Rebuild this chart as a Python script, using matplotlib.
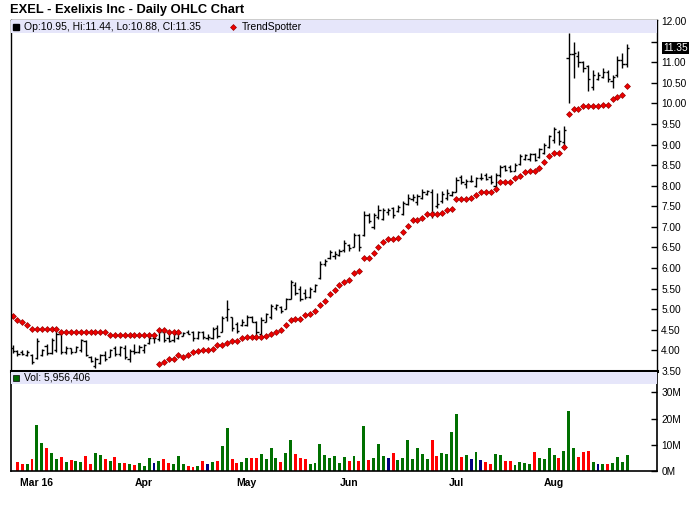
import numpy as np
import matplotlib.pyplot as plt
from matplotlib.patches import Rectangle
from matplotlib.transforms import blended_transform_factory

#%% Data #####################################################################
# one row per trading day, Feb 23 .. Aug 22 2016
opens = [4.05, 3.98, 3.96, 3.90, 3.90, 3.82, 3.90, 4.10, 3.93, 4.00,
         4.40, 3.95, 4.05, 3.96, 4.00, 4.22, 3.85, 3.62, 3.70, 3.90,
         3.85, 4.05, 3.92, 4.06, 3.80, 3.98, 3.96, 4.00, 4.18, 4.30,
         4.28, 4.45, 4.30, 4.25, 4.30, 4.36, 4.45, 4.45, 4.30, 4.44,
         4.30, 4.30, 4.55, 4.45, 4.80, 4.80, 4.65, 4.62, 4.62, 4.80,
         4.70, 4.40, 4.70, 4.80, 5.02, 5.05, 5.00, 5.26, 5.60, 5.50,
         5.40, 5.30, 5.45, 5.75, 6.10, 6.25, 6.30, 6.32, 6.45, 6.56,
         6.52, 6.80, 6.80, 7.30, 7.00, 7.25, 7.20, 7.35, 7.45, 7.38,
         7.32, 7.55, 7.68, 7.60, 7.70, 7.80, 7.85, 7.50, 7.62, 7.70,
         7.78, 7.85, 8.20, 8.05, 8.12, 8.00, 8.18, 8.25, 8.20, 8.00,
         8.25, 8.48, 8.45, 8.36, 8.52, 8.65, 8.65, 8.78, 8.70, 8.80,
         8.95, 9.10, 9.30, 9.05, 11.10, 11.20, 11.15, 11.00, 10.90, 10.40,
         10.60, 10.65, 10.75, 10.55, 10.70, 11.05, 10.95]
highs = [4.12, 4.01, 4.02, 4.01, 3.92, 4.29, 4.03, 4.16, 4.30, 4.46,
         4.44, 4.10, 4.07, 4.11, 4.28, 4.26, 3.87, 3.83, 3.91, 3.99,
         4.03, 4.11, 4.11, 4.12, 4.03, 4.16, 4.12, 4.16, 4.34, 4.37,
         4.52, 4.52, 4.44, 4.45, 4.48, 4.45, 4.50, 4.48, 4.48, 4.46,
         4.40, 4.56, 4.62, 4.84, 5.23, 4.80, 4.70, 4.76, 4.86, 4.84,
         4.72, 4.80, 4.92, 5.12, 5.12, 5.08, 5.28, 5.71, 5.65, 5.57,
         5.49, 5.55, 5.62, 6.17, 6.23, 6.43, 6.41, 6.46, 6.67, 6.58,
         6.84, 6.83, 7.38, 7.34, 7.33, 7.52, 7.46, 7.45, 7.48, 7.52,
         7.63, 7.79, 7.79, 7.79, 7.91, 7.89, 7.91, 7.83, 7.87, 7.92,
         7.87, 8.22, 8.25, 8.17, 8.25, 8.21, 8.30, 8.31, 8.25, 8.30,
         8.51, 8.51, 8.51, 8.55, 8.78, 8.78, 8.80, 8.80, 8.92, 9.04,
         9.24, 9.42, 9.36, 9.44, 11.70, 11.50, 11.26, 11.02, 10.93, 10.81,
         10.77, 10.85, 10.81, 10.69, 11.15, 11.22, 11.44]
lows = [3.93, 3.87, 3.90, 3.87, 3.67, 3.80, 3.87, 3.89, 3.91, 3.95,
        3.91, 3.91, 3.91, 3.95, 3.95, 3.87, 3.71, 3.57, 3.67, 3.75,
        3.83, 3.87, 3.87, 3.79, 3.71, 3.91, 3.94, 3.94, 4.16, 4.18,
        4.24, 4.20, 4.20, 4.21, 4.28, 4.34, 4.40, 4.24, 4.28, 4.28,
        4.26, 4.28, 4.29, 4.44, 4.72, 4.48, 4.42, 4.60, 4.60, 4.68,
        4.32, 4.32, 4.68, 4.76, 4.99, 4.90, 5.00, 5.25, 5.34, 5.20,
        5.25, 5.28, 5.41, 5.74, 6.05, 6.21, 6.21, 6.29, 6.40, 6.41,
        6.50, 6.42, 6.79, 7.10, 6.96, 7.18, 7.17, 7.28, 7.22, 7.36,
        7.30, 7.54, 7.63, 7.52, 7.67, 7.77, 7.22, 7.46, 7.59, 7.65,
        7.75, 7.84, 8.05, 7.95, 8.09, 7.97, 8.15, 8.15, 8.03, 7.97,
        8.21, 8.35, 8.33, 8.35, 8.51, 8.63, 8.61, 8.59, 8.68, 8.76,
        8.92, 9.04, 9.00, 8.94, 10.02, 10.61, 10.89, 10.77, 10.29, 10.33,
        10.57, 10.61, 10.53, 10.37, 10.65, 10.85, 10.88]
closes = [3.98, 3.92, 3.91, 3.97, 3.72, 4.22, 4.00, 3.93, 4.25, 4.40,
          3.96, 4.05, 3.95, 4.08, 4.25, 3.90, 3.74, 3.78, 3.88, 3.80,
          4.00, 3.92, 4.08, 3.85, 3.98, 3.95, 4.08, 4.12, 4.30, 4.30,
          4.45, 4.25, 4.24, 4.40, 4.42, 4.43, 4.41, 4.30, 4.44, 4.32,
          4.32, 4.52, 4.35, 4.78, 5.00, 4.55, 4.48, 4.70, 4.80, 4.70,
          4.45, 4.75, 4.88, 5.08, 5.10, 4.95, 5.25, 5.65, 5.40, 5.25,
          5.30, 5.48, 5.58, 6.10, 6.18, 6.38, 6.35, 6.42, 6.62, 6.48,
          6.80, 6.50, 7.30, 7.15, 7.28, 7.40, 7.42, 7.42, 7.30, 7.48,
          7.58, 7.70, 7.72, 7.75, 7.85, 7.86, 7.35, 7.55, 7.80, 7.82,
          7.84, 8.15, 8.10, 8.12, 8.12, 8.18, 8.18, 8.17, 8.08, 8.25,
          8.45, 8.38, 8.36, 8.50, 8.72, 8.75, 8.78, 8.62, 8.88, 8.98,
          9.20, 9.38, 9.08, 9.35, 11.20, 11.22, 11.00, 10.85, 10.60, 10.70,
          10.70, 10.75, 10.60, 10.65, 11.05, 10.95, 11.35]

# TrendSpotter: a falling run above price (days 0-34), then a rising run below (days 30-126)
trend_upper = [4.84, 4.73, 4.70, 4.62, 4.51, 4.51, 4.51, 4.51, 4.51, 4.51,
               4.45, 4.45, 4.45, 4.45, 4.45, 4.45, 4.45, 4.44, 4.44, 4.44,
               4.38, 4.38, 4.37, 4.37, 4.37, 4.37, 4.37, 4.37, 4.37, 4.37,
               4.49, 4.49, 4.45, 4.45, 4.45]
trend_lower = [3.67, 3.73, 3.79, 3.79, 3.89, 3.83, 3.89, 3.97, 3.99, 4.02,
               4.02, 4.03, 4.12, 4.13, 4.18, 4.23, 4.23, 4.30, 4.32, 4.32,
               4.32, 4.32, 4.36, 4.40, 4.44, 4.49, 4.62, 4.74, 4.76, 4.76,
               4.86, 4.88, 4.95, 5.10, 5.20, 5.36, 5.46, 5.58, 5.66, 5.71,
               5.89, 5.92, 6.25, 6.25, 6.36, 6.52, 6.64, 6.70, 6.70, 6.74,
               6.88, 7.02, 7.16, 7.16, 7.22, 7.32, 7.32, 7.32, 7.34, 7.40,
               7.44, 7.68, 7.68, 7.68, 7.71, 7.78, 7.84, 7.84, 7.84, 7.91,
               8.10, 8.10, 8.10, 8.18, 8.24, 8.34, 8.36, 8.36, 8.43, 8.58,
               8.73, 8.80, 8.80, 8.93, 9.74, 9.86, 9.86, 9.93, 9.93, 9.93,
               9.93, 9.97, 9.97, 10.10, 10.15, 10.20, 10.43]
trend_lower_start = 30

# volume in millions, first day has no bar
volume = [np.nan, 3.4, 2.7, 2.7, 4.6, 17.5, 10.6, 8.7, 6.8, 4.6,
          5.3, 3.4, 4.2, 3.8, 3.4, 5.7, 2.7, 6.8, 6.1, 4.6,
          3.8, 5.3, 3.0, 3.0, 2.7, 2.3, 3.0, 1.9, 4.9, 3.0,
          3.8, 4.6, 3.0, 2.7, 5.7, 2.7, 1.9, 1.5, 1.9, 3.8,
          2.7, 3.4, 3.8, 9.5, 16.3, 4.6, 3.0, 3.4, 4.9, 4.9,
          4.9, 6.5, 4.6, 8.7, 4.9, 3.4, 6.8, 11.8, 6.5, 4.9,
          4.6, 2.7, 3.0, 10.3, 6.1, 4.9, 5.7, 3.0, 5.3, 3.8,
          5.7, 3.8, 17.1, 4.2, 4.9, 10.3, 5.7, 4.9, 6.8, 4.2,
          4.9, 11.8, 4.6, 8.7, 6.5, 4.6, 11.8, 5.7, 6.8, 6.5,
          14.8, 21.7, 5.3, 6.1, 4.6, 7.2, 4.2, 3.4, 2.7, 6.5,
          6.1, 3.8, 3.8, 2.3, 3.4, 3.0, 2.7, 7.2, 4.9, 4.6,
          8.7, 6.1, 4.9, 7.6, 22.8, 8.7, 5.3, 7.2, 7.6, 3.4,
          2.7, 2.7, 2.7, 3.0, 5.3, 3.4, 5.956406]
# u = up, d = down, n = unchanged
vol_dir = ("n d d u d u u d u u  d u d u u d d u u d  u d u d u d u u u n  "
           "u d d u u u d d u d  n u d u u d d u u d  d u u u u d u u d d  "
           "d u u u u u u u u d  u d u d u u u n d u  u u u u u u d d u u  "
           "u u d u n u n d d u  u d d u u u u d u u  u u d u u u d d d u  "
           "n u d u u u u").split()

month_pos = [5, 27, 48, 69, 91, 111]
month_labels = ["Mar 16", "Apr", "May", "Jun", "Jul", "Aug"]
price_ticks = np.arange(3.5, 12.01, 0.5)
vol_ticks = [0, 10, 20, 30]
vol_tick_labels = ["0M", "10M", "20M", "30M"]

#%% Plot #####################################################################
plt.rcParams['font.family'] = ['Liberation Sans', 'DejaVu Sans']
W, H = 700, 512
fig = plt.figure(figsize=(W / 100, H / 100), dpi=100)

def fx(px):
    return px / W

def fy(py):
    return 1 - py / H

left, right = 10.5, 657
ax = fig.add_axes([fx(left), fy(371), fx(right - left), (371 - 20) / H])
axv = fig.add_axes([fx(left), fy(471), fx(right - left), (471 - 372) / H])

x = np.arange(len(closes))
ax.vlines(x, lows, highs, color='black', lw=1)
ax.hlines(opens, x - 0.45, x, color='black', lw=1)
ax.hlines(closes, x, x + 0.45, color='black', lw=1)
mk = dict(ls='none', marker='D', ms=3.0, mfc='#ee0000', mec='#990000', mew=0.5)
ax.plot(x[:len(trend_upper)], trend_upper, **mk)
xl = np.arange(trend_lower_start, trend_lower_start + len(trend_lower))
ax.plot(xl, trend_lower, **mk)

xlim = (-0.41, 132.1)
ax.set_xlim(*xlim)
ax.set_ylim(3.5, 12.0 + 1 / 41.2)
ax.set_xticks([])
ax.yaxis.tick_right()
ax.set_yticks(price_ticks)
ax.set_yticklabels(["" if abs(t - 11.5) < 1e-6 else f"{t:.2f}" for t in price_ticks])
ax.tick_params(axis='y', direction='in', length=4, width=1, pad=3, labelsize=7.3)
for s in ['left', 'top', 'right']:
    ax.spines[s].set_linewidth(1)
ax.spines['bottom'].set_linewidth(2.2)

# legend band of price panel
ax.add_patch(Rectangle((0, 1 - 13 / 351), 1, 13 / 351, transform=ax.transAxes,
                       facecolor='#e6e6fa', edgecolor='none', zorder=3))
fig.lines.append(plt.Line2D([fx(16)], [fy(27)], marker='s', ms=5, color='black',
                            transform=fig.transFigure))
fig.text(fx(24), fy(27), "Op:10.95, Hi:11.44, Lo:10.88, Cl:11.35", fontsize=7.5,
         va='center', ha='left')
fig.lines.append(plt.Line2D([fx(233)], [fy(27)], marker='D', ms=3.0, mfc='#ee0000',
                            mec='#990000', mew=0.5, transform=fig.transFigure))
fig.text(fx(242), fy(27), "TrendSpotter", fontsize=7.5, va='center', ha='left')

# last price box
tr = blended_transform_factory(ax.transAxes, ax.transData)
ax.text(1.009, closes[-1], f"{closes[-1]:.2f}", transform=tr, color='white',
        fontsize=7.3, va='center', ha='left',
        bbox=dict(boxstyle='square,pad=0.12', fc='black', ec='none'))

fig.text(fx(10), fy(10), "EXEL - Exelixis Inc - Daily OHLC Chart", fontsize=9.3,
         fontweight='bold', va='center', ha='left')

# volume panel
cmap = {'u': '#007000', 'd': '#ff0000', 'n': '#000080'}
axv.bar(x, volume, width=0.6, color=[cmap[d] for d in vol_dir])
axv.set_xlim(*xlim)
axv.set_ylim(0, 37.8)
axv.yaxis.tick_right()
axv.set_yticks(vol_ticks)
axv.set_yticklabels(vol_tick_labels)
axv.tick_params(axis='y', direction='in', length=4, width=1, pad=3, labelsize=7.3)
axv.set_xticks(month_pos)
axv.set_xticklabels(month_labels, fontweight='bold', fontsize=7.5)
axv.tick_params(axis='x', length=0, pad=5)
axv.spines['top'].set_visible(False)
for s in ['left', 'bottom', 'right']:
    axv.spines[s].set_linewidth(1.2)
axv.add_patch(Rectangle((0, 1 - 12 / 99), 1, 12 / 99, transform=axv.transAxes,
                        facecolor='#e6e6fa', edgecolor='none', zorder=3))
fig.lines.append(plt.Line2D([fx(16)], [fy(378)], marker='s', ms=5, mfc='#006600',
                            mec='black', mew=0.5, transform=fig.transFigure))
fig.text(fx(24), fy(378), "Vol: 5,956,406", fontsize=7.5, va='center', ha='left')

fig.savefig("out.png", dpi=100)
